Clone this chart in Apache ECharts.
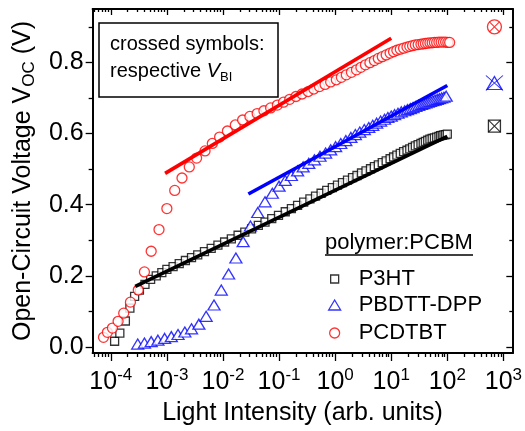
<!DOCTYPE html>
<html>
<head>
<meta charset="utf-8">
<script src="https://cdn.jsdelivr.net/npm/echarts@6/dist/echarts.min.js"></script>
<style>
  html, body { margin: 0; padding: 0; background: #fff; }
  #chart { width: 525px; height: 431px; }
</style>
</head>
<body>
<div id="chart"></div>
<script>
// light intensity (arb. units) and Voc (V)
const p3htI = [1.17e-4, 1.45e-4, 1.82e-4, 2.19e-4, 2.66e-4, 3.24e-4, 4.07e-4, 5.13e-4, 6.46e-4, 8.13e-4,
  1.00e-3, 1.29e-3, 1.66e-3, 2.14e-3, 2.75e-3, 3.55e-3, 4.68e-3, 6.17e-3, 8.13e-3,
  1.07e-2, 1.41e-2, 1.86e-2, 2.45e-2, 3.24e-2, 4.27e-2, 5.62e-2, 7.41e-2, 9.77e-2,
  0.129, 0.166, 0.214, 0.275, 0.355, 0.447, 0.562, 0.708, 0.891,
  1.10, 1.35, 1.66, 2.04, 2.45, 2.95, 3.55, 4.27, 5.01, 5.89, 6.92, 8.13, 9.55,
  11.0, 12.6, 14.5, 16.6, 19.1, 21.4, 24.0, 26.9, 30.2, 33.9, 37.2, 40.7, 44.7, 49.0, 53.7, 58.9,
  64.6, 70.8, 75.9, 81.3, 87.1, 93.3, 100];
const p3htV = [0.016, 0.039, 0.073, 0.109, 0.142, 0.160, 0.176, 0.190, 0.200, 0.209,
  0.218, 0.226, 0.234, 0.243, 0.251, 0.259, 0.268, 0.277, 0.286,
  0.295, 0.304, 0.314, 0.323, 0.332, 0.342, 0.351, 0.361, 0.370,
  0.380, 0.389, 0.398, 0.407, 0.416, 0.424, 0.432, 0.440, 0.448,
  0.455, 0.462, 0.469, 0.476, 0.482, 0.489, 0.495, 0.501, 0.507, 0.512, 0.518, 0.523, 0.529,
  0.534, 0.539, 0.544, 0.549, 0.553, 0.557, 0.561, 0.565, 0.569, 0.572, 0.575, 0.578, 0.581, 0.584, 0.586, 0.588,
  0.590, 0.592, 0.594, 0.595, 0.596, 0.597, 0.598];

const pbdttI = [3.02e-4, 3.98e-4, 5.25e-4, 6.92e-4, 9.12e-4,
  1.20e-3, 1.58e-3, 2.09e-3, 2.75e-3, 3.72e-3, 5.01e-3, 6.92e-3, 9.33e-3,
  1.26e-2, 1.70e-2, 2.29e-2, 3.09e-2, 4.17e-2, 5.62e-2, 7.59e-2,
  0.100, 0.129, 0.166, 0.214, 0.269, 0.339, 0.427, 0.537, 0.676, 0.832,
  1.02, 1.26, 1.55, 1.91, 2.29, 2.75, 3.31, 3.98, 4.68, 5.50, 6.46, 7.59, 8.71,
  10.0, 11.5, 13.2, 15.1, 17.4, 19.5, 21.9, 24.5, 27.5, 30.9, 34.7, 38.0, 41.7, 45.7, 50.1, 55.0,
  60.3, 66.1, 72.4, 79.4, 87.1, 95.5];
const pbdttV = [0.008, 0.011, 0.015, 0.019, 0.024,
  0.029, 0.035, 0.042, 0.051, 0.064, 0.086, 0.118, 0.160,
  0.205, 0.250, 0.296, 0.340, 0.378, 0.408, 0.432,
  0.452, 0.468, 0.482, 0.495, 0.506, 0.516, 0.526, 0.536, 0.545, 0.554,
  0.563, 0.572, 0.580, 0.589, 0.597, 0.604, 0.611, 0.617, 0.623, 0.629, 0.635, 0.640, 0.645,
  0.649, 0.653, 0.657, 0.661, 0.664, 0.667, 0.670, 0.673, 0.676, 0.679, 0.682, 0.684, 0.686, 0.688,
  0.690, 0.692, 0.694, 0.696, 0.698, 0.700, 0.702, 0.705];

const pcdtbtI = [7.41e-5, 8.71e-5, 1.07e-4, 1.35e-4, 1.70e-4, 2.24e-4, 3.09e-4, 3.98e-4, 5.25e-4, 7.24e-4,
  1.00e-3, 1.38e-3, 1.86e-3, 2.51e-3, 3.39e-3, 4.79e-3, 6.46e-3, 8.71e-3,
  1.20e-2, 1.66e-2, 2.24e-2, 3.02e-2, 4.07e-2, 5.37e-2, 7.08e-2, 9.33e-2,
  0.120, 0.155, 0.200, 0.257, 0.331, 0.417, 0.525, 0.661, 0.832,
  1.05, 1.29, 1.58, 1.95, 2.40, 2.88, 3.47, 4.17, 5.01, 5.89, 6.92, 8.13, 9.55,
  11.0, 12.6, 14.5, 16.6, 19.1, 21.4, 24.0, 26.9, 30.2, 33.9, 37.2, 40.7, 44.7, 49.0, 53.7, 58.9,
  64.6, 70.8, 77.6, 85.1, 93.3, 102, 110];
const pcdtbtV = [0.027, 0.041, 0.053, 0.072, 0.095, 0.126, 0.160, 0.211, 0.269, 0.330,
  0.389, 0.440, 0.475, 0.506, 0.531, 0.551, 0.572, 0.590,
  0.607, 0.624, 0.638, 0.648, 0.656, 0.664, 0.672, 0.680,
  0.688, 0.696, 0.704, 0.711, 0.718, 0.725, 0.732, 0.738, 0.745,
  0.751, 0.758, 0.765, 0.772, 0.779, 0.786, 0.793, 0.799, 0.805, 0.811, 0.816, 0.821, 0.826,
  0.830, 0.834, 0.837, 0.840, 0.843, 0.845, 0.847, 0.849, 0.850, 0.851, 0.852, 0.853, 0.854, 0.855,
  0.855, 0.856, 0.856, 0.857, 0.857, 0.857, 0.857, 0.856, 0.856];

// straight fits (start, end)
const p3htFitI = [2.74e-4, 100];
const p3htFitV = [0.170, 0.592];
const pbdttFitI = [2.84e-2, 100];
const pbdttFitV = [0.430, 0.735];
const pcdtbtFitI = [9.3e-4, 10];
const pcdtbtFitV = [0.488, 0.868];

// built-in voltages (crossed symbols)
const vbiI = 692;
const vbiV = [0.621, 0.742, 0.900];   // P3HT, PBDTT-DPP, PCDTBT

// axis ticks
const xMajor = [1e-4, 1e-3, 1e-2, 1e-1, 1, 10, 100, 1000];
const yMajor = [0, 0.2, 0.4, 0.6, 0.8];
const yMinor = [0.1, 0.3, 0.5, 0.7, 0.9];

const xMin = 4.75e-5, xMax = 1442;
const yMin = -0.017, yMax = 0.95;
const FONT = '"Liberation Sans", Arial, sans-serif';

let xMinor = [];
for (let d = -5; d <= 2; d++) {
  for (let k = 2; k <= 9; k++) {
    let v = k * Math.pow(10, d);
    if (v > xMin && v < xMax) xMinor.push(v);
  }
}

function zip(a, b) {
  return a.map((v, i) => [v, b[i]]);
}

const lineStyle = {color: '#000', width: 1.8};

function xAxis(pos, ticks, len, inside, withLabels) {
  return {
    type: 'log', logBase: 10, position: pos, min: xMin, max: xMax,
    axisLine: {show: true, onZero: false, lineStyle: lineStyle},
    axisTick: {show: true, inside: inside, length: len, customValues: ticks,
      lineStyle: {color: '#000', width: 1.3}},
    axisLabel: withLabels ? {
      customValues: xMajor,
      margin: 14,
      formatter: v => '{b|10}{s|' + Math.round(Math.log10(v)) + '}',
      rich: {
        b: {fontSize: 25, fontFamily: FONT, color: '#000', lineHeight: 30},
        s: {fontSize: 17, fontFamily: FONT, color: '#000', verticalAlign: 'top', lineHeight: 17}
      }
    } : {show: false},
    splitLine: {show: false},
    name: withLabels ? 'Light Intensity (arb. units)' : '',
    nameLocation: 'middle',
    nameGap: 48,
    nameTextStyle: {fontSize: 25, fontFamily: FONT, color: '#000'}
  };
}

function yAxis(pos, ticks, len, inside, withLabels) {
  return {
    type: 'value', position: pos, min: yMin, max: yMax,
    axisLine: {show: true, onZero: false, lineStyle: lineStyle},
    axisTick: {show: true, inside: inside, length: len, customValues: ticks,
      lineStyle: {color: '#000', width: 1.3}},
    axisLabel: withLabels ? {
      customValues: yMajor,
      margin: 9,
      formatter: v => v.toFixed(1),
      fontSize: 25, fontFamily: FONT, color: '#000'
    } : {show: false},
    splitLine: {show: false},
    name: withLabels ? 'Open-Circuit Voltage V{s|OC} (V)' : '',
    nameLocation: 'middle',
    nameRotate: 90,
    nameGap: 46,
    nameTextStyle: {
      fontSize: 25, fontFamily: FONT, color: '#000', lineHeight: 30,
      rich: {s: {fontSize: 17, fontFamily: FONT, color: '#000', verticalAlign: 'bottom', lineHeight: 17}}
    }
  };
}

function scatter(name, data, symbol, size, color) {
  return {
    name: name, type: 'scatter', data: data,
    symbol: symbol, symbolSize: size,
    itemStyle: {color: '#fff', borderColor: color, borderWidth: 1.3},
    z: 2
  };
}

function fit(name, data, color) {
  return {
    name: name, type: 'line', data: data, symbol: 'none',
    lineStyle: {color: color, width: 3.6},
    z: 3
  };
}

const crossPath = 'path://M0,0L10,10M0,10L10,0';

function cross(name, v, size, color) {
  return {
    name: name, type: 'scatter', data: [[vbiI, v]],
    symbol: crossPath, symbolSize: size,
    itemStyle: {color: 'none', borderColor: color, borderWidth: 1.1},
    z: 4
  };
}

function legend(name, top, left, w, h, pad) {
  return {
    data: [name], orient: 'vertical', top: top, left: left, padding: 0,
    itemWidth: w, itemHeight: h, selectedMode: false,
    itemStyle: {borderWidth: 1.3},
    textStyle: {fontSize: 22, fontFamily: FONT, color: '#000', lineHeight: 22, padding: [0, 0, 0, pad]}
  };
}

let chart = echarts.init(document.getElementById('chart'));
let option = {
  animation: false,
  backgroundColor: '#fff',
  grid: {left: 91, right: 10, top: 9, bottom: 76, containLabel: false},
  xAxis: [
    xAxis('bottom', xMajor, 8, false, true),
    xAxis('bottom', xMinor, 4, false, false),
    xAxis('top', xMajor, 6, true, false),
    xAxis('top', xMinor, 3, true, false)
  ],
  yAxis: [
    yAxis('left', yMajor, 7, false, true),
    yAxis('left', yMinor, 4, false, false),
    yAxis('right', yMajor, 6, true, false),
    yAxis('right', yMinor, 3, true, false)
  ],
  legend: [
    legend('P3HT', 268, 330, 8, 8, 15),
    legend('PBDTT-DPP', 294, 328, 12, 10, 13),
    legend('PCDTBT', 322, 329, 10, 10, 14)
  ],
  graphic: [
    {type: 'rect', shape: {x: 99, y: 23, width: 179, height: 74},
      style: {fill: 'none', stroke: '#000', lineWidth: 1.5}},
    {type: 'text', left: 110, top: 34,
      style: {text: 'crossed symbols:', fontSize: 20, fontFamily: FONT, fill: '#000'}},
    {type: 'text', left: 110, top: 58,
      style: {text: 'respective {i|V}{s|BI}', fontSize: 20, fontFamily: FONT, fill: '#000', lineHeight: 26,
        rich: {
          i: {fontSize: 20, fontFamily: FONT, fontStyle: 'italic', lineHeight: 26},
          s: {fontSize: 13, fontFamily: FONT, verticalAlign: 'bottom', lineHeight: 13}
        }}},
    {type: 'text', left: 325, top: 232,
      style: {text: 'polymer:PCBM', fontSize: 22, fontFamily: FONT, fill: '#000'}},
    {type: 'line', shape: {x1: 325, y1: 255, x2: 473, y2: 255},
      style: {stroke: '#000', lineWidth: 1.5}}
  ],
  series: [
    scatter('P3HT', zip(p3htI, p3htV), 'rect', 8, '#000'),
    scatter('PBDTT-DPP', zip(pbdttI, pbdttV), 'triangle', [12, 10], '#0000ff'),
    scatter('PCDTBT', zip(pcdtbtI, pcdtbtV), 'circle', 10, '#ff0000'),
    fit('P3HT fit', zip(p3htFitI, p3htFitV), '#000'),
    fit('PBDTT-DPP fit', zip(pbdttFitI, pbdttFitV), '#0000ff'),
    fit('PCDTBT fit', zip(pcdtbtFitI, pcdtbtFitV), '#ff0000'),
    scatter('P3HT VBI', [[vbiI, vbiV[0]]], 'rect', 12, '#000'),
    cross('P3HT VBI x', vbiV[0], 12, '#000'),
    scatter('PBDTT-DPP VBI', [[vbiI, vbiV[1]]], 'triangle', [15, 13], '#0000ff'),
    cross('PBDTT-DPP VBI x', vbiV[1], [17, 15], '#0000ff'),
    scatter('PCDTBT VBI', [[vbiI, vbiV[2]]], 'circle', 14, '#ff0000'),
    cross('PCDTBT VBI x', vbiV[2], 10, '#ff0000')
  ]
};
chart.setOption(option);
</script>
</body>
</html>
